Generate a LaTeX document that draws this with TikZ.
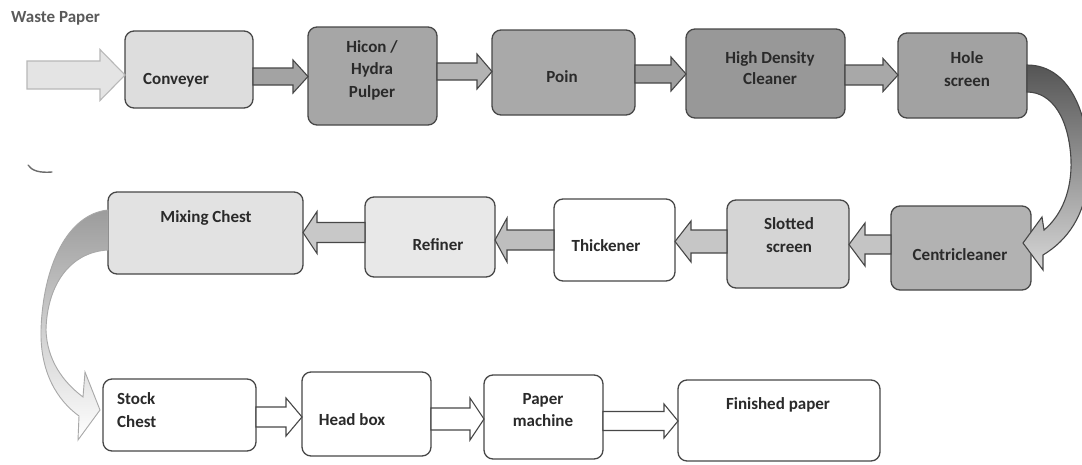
\documentclass[tikz,border=0pt]{standalone}
\usepackage{fontspec}
\setmainfont{Carlito}
\usetikzlibrary{calc}
\definecolor{bordc}{HTML}{474747}
\definecolor{txtc}{HTML}{2A2A2A}
\definecolor{fConv}{HTML}{DDDDDD}
\definecolor{fHicon}{HTML}{A6A6A6}
\definecolor{fPoin}{HTML}{A9A9A9}
\definecolor{fHdc}{HTML}{989898}
\definecolor{fHole}{HTML}{A2A2A2}
\definecolor{fCentri}{HTML}{B2B2B2}
\definecolor{fSlot}{HTML}{D5D5D5}
\definecolor{fRef}{HTML}{E8E8E8}
\definecolor{fMix}{HTML}{E2E2E2}
\definecolor{aWp}{HTML}{E4E4E4}
\definecolor{aWpB}{HTML}{B8B8B8}
\definecolor{aA}{HTML}{A3A3A3}
\definecolor{aB}{HTML}{B3B3B3}
\definecolor{aC}{HTML}{A0A0A0}
\definecolor{aD}{HTML}{A8A8A8}
\definecolor{aE}{HTML}{C4C4C4}
\definecolor{aF}{HTML}{C6C6C6}
\definecolor{aG}{HTML}{BEBEBE}
\definecolor{aH}{HTML}{C8C8C8}
\definecolor{cTop}{HTML}{555555}
\definecolor{cMid}{HTML}{8A8A8A}
\definecolor{cBot}{HTML}{D6D6D6}
\definecolor{lTop}{HTML}{9C9C9C}
\definecolor{lBord}{HTML}{A8A8A8}
\definecolor{wpTxt}{HTML}{5A5A5A}
\newcommand\pbox[6]{\node[pbx,fill=#6,minimum width={(#4)-(#2)},minimum height={(#5)-(#3)}] (#1) at ({((#2)+(#4))/2},{-((#3)+(#5))/2}) {};}
% right-pointing block arrow: #1 start anchor, #2 tip anchor, #3 y, #4 shaft half, #5 head half, #6 head length, #7 style
\newcommand\rarr[7]{\path[arr,#7] let \p1=(#1), \p2=(#2) in
  (\x1,{-(#3)+(#4)}) -- ({\x2-(#6)},{-(#3)+(#4)}) -- ({\x2-(#6)},{-(#3)+(#5)}) -- (\x2,{-(#3)})
  -- ({\x2-(#6)},{-(#3)-(#5)}) -- ({\x2-(#6)},{-(#3)-(#4)}) -- (\x1,{-(#3)-(#4)}) -- cycle;}
\newcommand\larr[7]{\path[arr,#7] let \p1=(#1), \p2=(#2) in
  (\x1,{-(#3)+(#4)}) -- ({\x2+(#6)},{-(#3)+(#4)}) -- ({\x2+(#6)},{-(#3)+(#5)}) -- (\x2,{-(#3)})
  -- ({\x2+(#6)},{-(#3)-(#5)}) -- ({\x2+(#6)},{-(#3)-(#4)}) -- (\x1,{-(#3)-(#4)}) -- cycle;}
\begin{document}
\begin{tikzpicture}[x=1pt,y=1pt,
  pbx/.style={draw=bordc,line width=1.3pt,rounded corners=9pt,inner sep=0pt,outer sep=0pt},
  arr/.style={draw=bordc,line width=1.1pt,line join=miter},
  txt/.style={text=txtc,font=\bfseries\fontsize{17}{22.5}\selectfont,align=center,inner sep=0pt}]
\useasboundingbox[fill=white] (0,0) rectangle (1082,-464);
% boxes
\pbox{conv}{125}{31}{253}{108}{fConv}
\pbox{hicon}{308}{27}{437}{125}{fHicon}
\pbox{poin}{492}{30}{635}{115}{fPoin}
\pbox{hdc}{686}{29}{845}{118}{fHdc}
\pbox{hole}{898}{33}{1027}{118}{fHole}
\pbox{centri}{891}{206}{1031}{290}{fCentri}
\pbox{slot}{727}{200}{849}{288}{fSlot}
\pbox{thick}{554}{199}{675}{281}{white}
\pbox{refiner}{365}{197}{495}{277}{fRef}
\pbox{mixing}{108}{192}{303}{274}{fMix}
\pbox{stock}{103}{379}{256}{451}{white}
\pbox{headbox}{302}{372}{431}{456}{white}
\pbox{paper}{484}{375}{603}{459}{white}
\pbox{finished}{678}{380}{880}{461}{white}
% texts
\node[txt,text=wpTxt,anchor=west] (wptxt) at (11,-18) {Waste Paper};
\node[txt] (tconv) at (176,-80) {Conveyer};
\node[txt] (thicon) at (372,-70) {Hicon /\\Hydra\\Pulper};
\node[txt] (tpoin) at (562,-77) {Poin};
\node[txt,font=\bfseries\fontsize{17}{20.5}\selectfont] (thdc) at (770,-68) {High Density\\Cleaner};
\node[txt] (thole) at (967,-69) {Hole\\screen};
\node[txt] (tcentri) at (960,-255) {Centricleaner};
\node[txt] (tslot) at (789,-235) {Slotted\\screen};
\node[txt] (tthick) at (606,-246) {Thickener};
\node[txt] (tref) at (438,-245) {Refiner};
\node[txt] (tmix) at (206,-218) {Mixing Chest};
\node[txt,anchor=west,align=left] (tstock) at (117,-410) {Stock\\Chest};
\node[txt] (thead) at (352,-420) {Head box};
\node[txt] (tpaper) at (543,-410) {Paper\\machine};
\node[txt] (tfin) at (778,-405) {Finished paper};
% input arrow
\coordinate (wp) at (27,-75);
\rarr{wp}{conv.west}{75}{14}{25.5}{25}{fill=aWp,draw=aWpB}
% row 1 arrows
\rarr{conv.east}{hicon.west}{76.5}{8.5}{16.5}{15}{fill=aA}
\rarr{hicon.east}{poin.west}{71.5}{8.5}{17.5}{15}{fill=aB}
\rarr{poin.east}{hdc.west}{74}{9}{17}{15}{fill=aC}
\rarr{hdc.east}{hole.west}{75}{10}{16.5}{15}{fill=aD}
% row 2 arrows
\larr{centri.west}{slot.east}{244.5}{9.5}{21.5}{16}{fill=aE}
\larr{slot.west}{thick.east}{241.5}{11.5}{20.5}{16}{fill=aF}
\larr{thick.west}{refiner.east}{240}{10}{22}{12}{fill=aG}
\larr{refiner.west}{mixing.east}{232.5}{10}{21}{14}{fill=aH}
% row 3 arrows
\rarr{stock.east}{headbox.west}{417}{10}{19}{16}{fill=white}
\rarr{headbox.east}{paper.west}{419}{11}{21}{14}{fill=white}
\rarr{paper.east}{finished.west}{421}{9.5}{17}{14}{fill=white}
% curved arrow hole screen -> centricleaner
\path[draw=bordc,line width=1.1pt,top color=cTop,middle color=cMid,bottom color=cBot]
  (1027,-65) .. controls (1072,-65) and (1092,-120) .. (1088,-178)
  .. controls (1085,-215) and (1068,-240) .. (1043,-255) -- (1043,-270) -- (1023,-243) -- (1042,-217)
  -- (1044,-230) .. controls (1062,-215) and (1072,-190) .. (1071,-160)
  .. controls (1069,-118) and (1052,-92) .. (1027,-92) -- cycle;
% curved arrow mixing chest -> stock chest
\path[draw=lBord,line width=0.9pt,top color=lTop,middle color=white,bottom color=white]
  (108,-210) .. controls (68,-214) and (43,-265) .. (41,-330)
  .. controls (40,-372) and (57,-400) .. (79,-416) -- (78,-440) -- (100,-410) -- (85,-372)
  -- (83,-397) .. controls (63,-382) and (47,-360) .. (46,-330)
  .. controls (47,-285) and (70,-252) .. (108,-250) -- cycle;
% small mark
\draw[draw=bordc!80,line width=1.4pt,line cap=round] (28,-165) .. controls (32,-171) and (40,-173) .. (52,-172);
\end{tikzpicture}
\end{document}
